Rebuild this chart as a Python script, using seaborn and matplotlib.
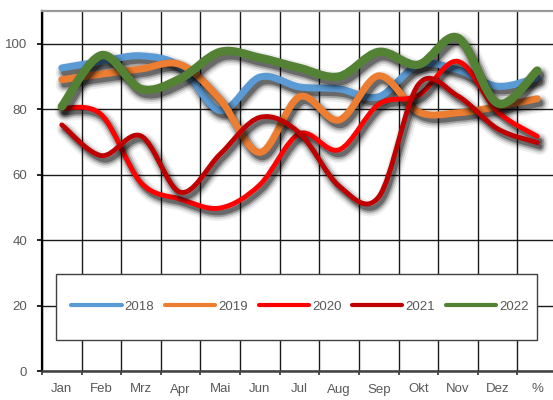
import numpy as np
import pandas as pd
import matplotlib
matplotlib.use("Agg")
import matplotlib.pyplot as plt
import matplotlib.patheffects as pe
from matplotlib.path import Path
from matplotlib.patches import PathPatch, Rectangle
from matplotlib.lines import Line2D
import seaborn as sns

# ==============================================================================
# DATEN
# ==============================================================================
MONATE = ["Jan", "Feb", "Mrz", "Apr", "Mai", "Jun", "Jul", "Aug", "Sep", "Okt", "Nov", "Dez", "%"]
JAHRE = ["2018", "2019", "2020", "2021", "2022"]

werte_2018 = [92.6, 94.6, 96.3, 93.0, 79.6, 89.8, 86.8, 86.2, 83.8, 93.6, 92.0, 87.0, 89.6]
werte_2019 = [89.0, 90.7, 92.3, 93.6, 82.9, 66.8, 83.8, 76.7, 90.2, 79.2, 78.9, 80.8, 83.2]
werte_2020 = [80.3, 78.3, 57.5, 52.5, 49.8, 56.9, 72.5, 67.6, 81.5, 84.2, 94.6, 79.3, 71.7]
werte_2021 = [75.2, 65.8, 71.8, 54.6, 66.3, 77.5, 72.7, 56.5, 53.2, 87.5, 84.0, 74.0, 69.8]
werte_2022 = [80.8, 96.5, 86.2, 89.4, 97.5, 95.7, 92.6, 90.0, 97.5, 93.6, 101.8, 81.8, 91.8]

FARBEN = {"2018": "#5B9BD5", "2019": "#ED7D31", "2020": "#FF0000",
          "2021": "#C00000", "2022": "#548235"}
BREITEN = {"2018": 5.0, "2019": 5.0, "2020": 3.5, "2021": 3.5, "2022": 6.0}
TEXTFARBE = "#595959"


def smooth_path(xs, ys):
    # Bezier-Kurve durch die Datenpunkte (wie "geglättete Linie" in Excel)
    pts = np.column_stack([xs, ys])
    n = len(pts)
    verts = [pts[0]]
    codes = [Path.MOVETO]
    for i in range(n - 1):
        p0 = pts[max(i - 1, 0)]
        p1 = pts[i]
        p2 = pts[i + 1]
        p3 = pts[min(i + 2, n - 1)]
        verts += [p1 + (p2 - p0) / 6, p2 - (p3 - p1) / 6, p2]
        codes += [Path.CURVE4] * 3
    return Path(verts, codes)


def shadow(lw):
    off = (2.0, -3.2)
    return [
        pe.Stroke(offset=off, linewidth=lw + 8, foreground="black", alpha=0.07),
        pe.Stroke(offset=off, linewidth=lw + 5, foreground="black", alpha=0.12),
        pe.Stroke(offset=off, linewidth=lw + 2.5, foreground="black", alpha=0.22),
        pe.Stroke(offset=off, linewidth=lw, foreground="black", alpha=0.35),
        pe.Normal(),
    ]


def main():
    df = pd.DataFrame({
        "Monat": MONATE * len(JAHRE),
        "Wert": werte_2018 + werte_2019 + werte_2020 + werte_2021 + werte_2022,
        "Jahr": [j for j in JAHRE for _ in MONATE],
    })

    sns.set_theme(style="white")
    plt.rcParams["font.family"] = ["Liberation Sans", "DejaVu Sans"]

    fig = plt.figure(figsize=(5.53, 4.0), dpi=100)
    ax = fig.add_axes([42 / 553, 29 / 400, 515 / 553, 360 / 400])

    sns.lineplot(data=df, x="Monat", y="Wert", hue="Jahr", hue_order=JAHRE,
                 palette=FARBEN, sort=False, estimator=None, legend=False, ax=ax)

    # Linien glätten und mit Schatten zeichnen
    for jahr, line in zip(JAHRE, list(ax.lines)):
        xy = line.get_xydata()
        line.remove()
        lw = BREITEN[jahr]
        patch = PathPatch(smooth_path(xy[:, 0], xy[:, 1]), facecolor="none",
                          edgecolor=FARBEN[jahr], linewidth=lw,
                          capstyle="round", joinstyle="round", zorder=3)
        patch.set_path_effects(shadow(lw))
        ax.add_patch(patch)

    ax.set_xlim(-0.5, len(MONATE) - 0.5)
    ax.set_ylim(0, 110)
    ax.set_xlabel("")
    ax.set_ylabel("")

    # Gitter an den Kategoriegrenzen
    ax.set_xticks(np.arange(-0.5, len(MONATE), 1.0))
    ax.set_xticklabels([])
    ax.set_xticks(np.arange(len(MONATE)), minor=True)
    ax.set_xticklabels(MONATE, minor=True)
    ax.set_yticks(range(0, 101, 20))
    ax.grid(True, which="major", color="#1a1a1a", linewidth=1.0)
    ax.set_axisbelow(True)

    ax.tick_params(axis="x", which="major", direction="out", length=3,
                   width=1.2, color="#333333", bottom=True)
    ax.tick_params(axis="x", which="minor", length=0, pad=9,
                   labelsize=9.5, labelcolor=TEXTFARBE)
    ax.tick_params(axis="y", direction="out", length=3.6, width=1.2,
                   color="black", left=True, pad=7, labelsize=9.5,
                   labelcolor=TEXTFARBE)

    for side in ["left", "bottom", "top", "right"]:
        ax.spines[side].set_visible(True)
    ax.spines["left"].set_color("black")
    ax.spines["left"].set_linewidth(1.6)
    ax.spines["bottom"].set_color("#404040")
    ax.spines["bottom"].set_linewidth(1.8)
    ax.spines["top"].set_color("#999999")
    ax.spines["top"].set_linewidth(1.6)
    ax.spines["right"].set_color("#999999")

    # Legende im Kasten
    box = Rectangle((0.0272, 0.0861), 0.9339, 0.1833, transform=ax.transAxes,
                    facecolor="white", edgecolor="#404040", linewidth=1.0, zorder=4)
    ax.add_patch(box)
    handles = [Line2D([0], [0], color=FARBEN[j], linewidth=3,
                      solid_capstyle="round") for j in JAHRE]
    leg = ax.legend(handles, JAHRE, ncol=5, loc="center",
                    bbox_to_anchor=(0.501, 0.178), frameon=False,
                    handlelength=3.8, handletextpad=0.25, columnspacing=0.8,
                    fontsize=9.5, labelcolor=TEXTFARBE)
    leg.set_zorder(5)

    fig.savefig("out.png", dpi=100)
    plt.close(fig)


if __name__ == "__main__":
    main()
